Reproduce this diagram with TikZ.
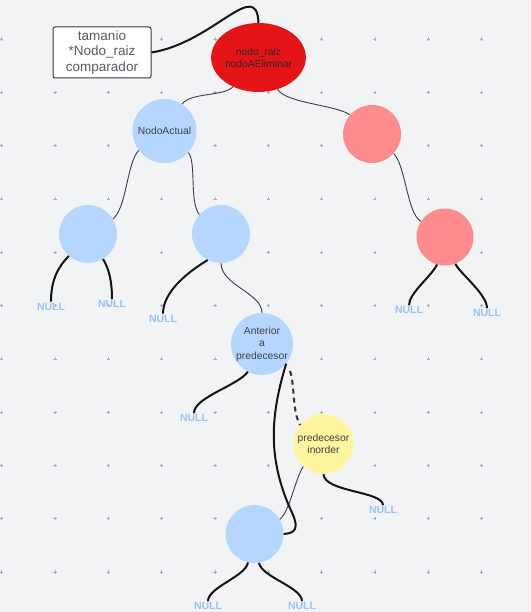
\documentclass[tikz,border=0pt]{standalone}
\usepackage{fontspec}
\setmainfont{Liberation Sans}
\usetikzlibrary{shapes.geometric}

\definecolor{canvas}{HTML}{F2F3F5}
\definecolor{gridgrey}{HTML}{A6ABB3}
\definecolor{rootred}{HTML}{E51517}
\definecolor{softred}{HTML}{FF8C8C}
\definecolor{softblue}{HTML}{B5D7FF}
\definecolor{softyellow}{HTML}{FFF59E}
\definecolor{nullblue}{HTML}{96C3FF}
\definecolor{inktext}{HTML}{3B3F46}
\definecolor{thinline}{HTML}{3A3D44}

\begin{document}
\begin{tikzpicture}[x=1pt,y=-1pt,
  gridmark/.style={draw=gridgrey,line width=0.6pt},
  treenode/.style={circle,minimum size=58pt,inner sep=0pt,text=inktext,
    align=center,font=\fontsize{10.3}{12.5}\selectfont},
  bluenode/.style={treenode,fill=softblue},
  rednode/.style={treenode,fill=softred},
  yellownode/.style={treenode,fill=softyellow,minimum size=60pt},
  rootnode/.style={ellipse,fill=rootred,minimum width=81pt,minimum height=69pt,
    inner sep=0pt,text=inktext!85!rootred!60!black,align=center,
    font=\fontsize{10.3}{12}\selectfont},
  infobox/.style={rectangle,rounded corners=2pt,draw=inktext!90!black,line width=1pt,
    fill=white,minimum width=98pt,minimum height=51pt,inner sep=0pt,align=center,
    text=inktext!85!white,font=\fontsize{13.5}{15.5}\selectfont},
  nulltag/.style={inner sep=1pt,text=nullblue,font=\fontsize{10.5}{12}\selectfont\bfseries},
  thinlink/.style={draw=thinline,line width=0.9pt},
  thicklink/.style={draw=black!92,line width=2pt},
  dashlink/.style={thicklink,draw=black!80,dash pattern=on 5pt off 4pt}
]
% canvas and dotted grid
\fill[canvas] (0,0) rectangle (530,612);
\useasboundingbox (0,0) rectangle (530,612);
\foreach \i in {0,...,9}{
  \foreach \j in {0,...,10}{
    \pgfmathsetmacro{\gx}{1.7+53.3*\i}
    \pgfmathsetmacro{\gy}{39+53.3*\j}
    \draw[gridmark] (\gx-1.6,\gy) -- (\gx+1.6,\gy) (\gx,\gy-1.6) -- (\gx,\gy+1.6);
  }
}

% tree nodes
\node[infobox] (info) at (102,52.5) {tamanio\\*Nodo\_raiz\\comparador};
\node[rootnode] (root) at (258.5,57.5) {nodo\_raiz\\nodoAEliminar};
\node[bluenode,minimum size=64pt] (act) at (164.5,131) {NodoActual};
\node[rednode] (rA) at (372,134) {};
\node[bluenode] (lL) at (88,234) {};
\node[bluenode] (lM) at (221,234) {};
\node[rednode,minimum size=57pt] (rB) at (445,237) {};
\node[bluenode] (ant) at (262,344) {Anterior\\a\\predecesor};
\node[yellownode] (pred) at (323.5,444) {predecesor\\inorder};
\node[bluenode] (low) at (254.5,534) {};

% NULL leaves
\node[nulltag] (n1) at (51,306.5) {NULL};
\node[nulltag] (n2) at (112,304) {NULL};
\node[nulltag] (n3) at (163,318.5) {NULL};
\node[nulltag] (n4) at (194,418) {NULL};
\node[nulltag] (n5) at (409,310) {NULL};
\node[nulltag] (n6) at (487,313) {NULL};
\node[nulltag] (n7) at (383,510) {NULL};
\node[nulltag] (n8) at (208,606) {NULL};
\node[nulltag] (n9) at (302,606) {NULL};

% connectors between tree nodes
\draw[thicklink] (info.east) .. controls +(62,-10) and +(-2,-46) .. (root.north);
\draw[thinlink] (root.229) .. controls +(-10,10) and +(10,-12) .. (act.57.6);
\draw[thinlink] (root.301) .. controls +(8,14) and +(-14,-10) .. (rA.139);
\draw[thinlink] (act.217) .. controls +(-12,12) and +(14,-12) .. (lL.31);
\draw[thinlink] (act.318) .. controls +(8,10) and +(-10,-12) .. (lM.138);
\draw[thinlink] (rA.318) .. controls +(12,12) and +(-14,-8) .. (rB.147);
\draw[thinlink] (lM.270) .. controls +(0,22) and +(0,-20) .. (ant.90);
\draw[thinlink] (pred.228) .. controls +(-8,12) and +(10,-8) .. (low.30.5);
\draw[dashlink] ([shift={(28,27)}]ant.center) .. controls +(5,14) and +(-8,-14) .. (pred.141);
\draw[thicklink] (ant.321) .. controls +(-18,58) and +(-19,-45) .. ++(3,143)
  .. controls +(10,20) and +(14,-1) .. (low.east);

% connectors to NULL leaves
\draw[thicklink] (lL.229) .. controls +(-12,12) and +(0,-20) .. (n1.north);
\draw[thicklink] (lL.301) .. controls +(6,10) and +(0,-18) .. (n2.north);
\draw[thicklink] (lM.243) .. controls +(-20,12) and +(0,-22) .. (n3.north);
\draw[thicklink] (ant.243) .. controls +(-10,14) and +(0,-16) .. (n4.north);
\draw[thicklink] (rB.254.6) .. controls +(-6,12) and +(0,-12) .. (n5.north);
\draw[thicklink] (rB.291.5) .. controls +(5,10) and +(0,-14) .. (n6.north);
\draw[thicklink] (pred.270) .. controls +(1,18) and +(0,-14) .. (n7.north);
\draw[thicklink] (low.257) .. controls +(-2,14) and +(0,-14) .. (n8.north);
\draw[thicklink] (low.279) .. controls +(2,14) and +(0,-14) .. (n9.north);
\end{tikzpicture}
\end{document}
